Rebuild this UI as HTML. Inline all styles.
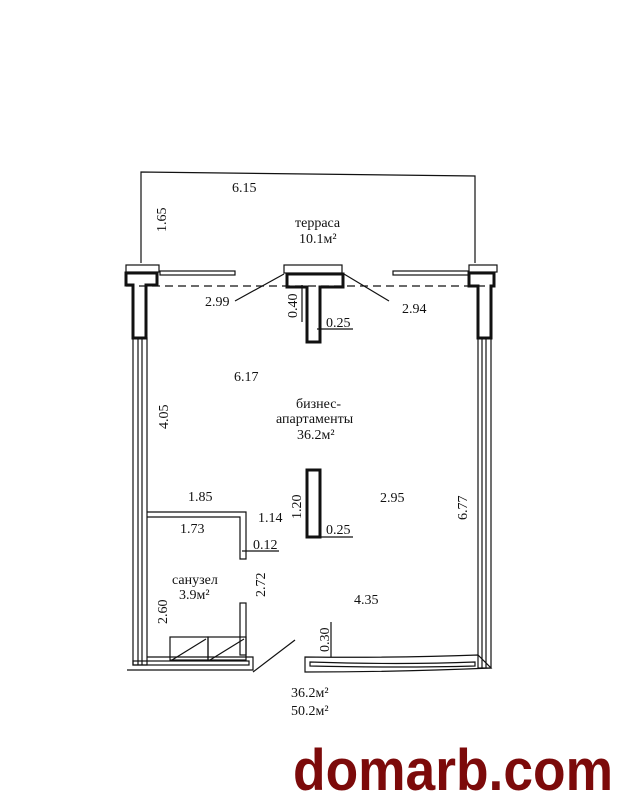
<!DOCTYPE html>
<html><head><meta charset="utf-8"><style>
html,body{margin:0;padding:0;background:#fff;}
svg{display:block}
text{font-family:"Liberation Serif",serif;fill:#111;font-size:14px}
</style></head><body>
<svg width="630" height="811" viewBox="0 0 630 811" xmlns="http://www.w3.org/2000/svg">
<g fill="none" stroke="#111" stroke-width="1.2">
<!-- terrace -->
<polyline points="141,263 141,172 475,176 475,263"/>
<!-- left column -->
<rect x="126" y="265" width="33" height="7"/>
<path d="M126,273 H157 V285 H146 V338 H133 V285 H126 Z" stroke-width="3"/>
<!-- center column -->
<rect x="284" y="265" width="58" height="8"/>
<path d="M287,274 H343 V287 H320 V342 H307 V287 H287 Z" stroke-width="3"/>
<!-- right column -->
<rect x="469" y="265" width="28" height="7"/>
<path d="M469,273 H494 V286 H491 V338 H478 V286 H469 Z" stroke-width="3"/>
<!-- rails -->
<rect x="160" y="271" width="75" height="4"/>
<rect x="393" y="271" width="76" height="4"/>
<!-- dashed -->
<line x1="126" y1="286" x2="494" y2="286" stroke-dasharray="8,5"/>
<!-- side walls -->
<rect x="133" y="338" width="14" height="327"/>
<line x1="138" y1="338" x2="138" y2="665"/><line x1="142" y1="338" x2="142" y2="665"/>
<rect x="478" y="338" width="13" height="330"/>
<line x1="482" y1="338" x2="482" y2="668"/><line x1="486" y1="338" x2="486" y2="668"/>
<!-- bathroom walls -->
<path d="M147,512 H246 V559 H240 V517 H147"/>
<rect x="240" y="603" width="6" height="52"/>
<rect x="170" y="637" width="38" height="23"/>
<rect x="208" y="637" width="38" height="23"/>
<line x1="172" y1="660" x2="206" y2="639"/><line x1="210" y1="660" x2="244" y2="639"/>
<!-- bottom walls -->
<path d="M127,670 H253 V657 H147"/>
<rect x="133" y="661" width="116" height="4"/>
<line x1="253" y1="672" x2="295" y2="640"/>
<path d="M305,657 Q400,658 478,655 L491,668 Q400,672 305,672 Z"/>
<path d="M310,662 Q400,665 475,662 L475,666 Q400,668 310,666 Z"/>
<!-- middle column -->
<rect x="307" y="470" width="13" height="67" stroke-width="3"/>
<!-- leaders -->
<line x1="235" y1="301" x2="284" y2="274"/>
<line x1="344" y1="274" x2="389" y2="301"/>
<line x1="302" y1="285" x2="302" y2="322"/>
<line x1="317" y1="329" x2="353" y2="329"/>
<line x1="317" y1="537" x2="353" y2="537"/>
<line x1="242" y1="551" x2="279" y2="551"/>
<line x1="331" y1="622" x2="331" y2="657"/>
</g>
<text x="232" y="192">6.15</text>
<text transform="translate(166,232) rotate(-90)">1.65</text>
<text x="295" y="227" font-size="15">терраса</text>
<text x="299" y="243" font-size="15">10.1м²</text>
<text x="205" y="306">2.99</text>
<text x="402" y="313">2.94</text>
<text transform="translate(297,318) rotate(-90)">0.40</text>
<text x="326" y="327">0.25</text>
<text x="234" y="381">6.17</text>
<text transform="translate(168,429) rotate(-90)">4.05</text>
<text x="296" y="408" font-size="15">бизнес-</text>
<text x="276" y="423" font-size="15">апартаменты</text>
<text x="297" y="439" font-size="15">36.2м²</text>
<text x="188" y="501">1.85</text>
<text x="380" y="502">2.95</text>
<text transform="translate(467,520) rotate(-90)">6.77</text>
<text transform="translate(301,519) rotate(-90)">1.20</text>
<text x="258" y="522">1.14</text>
<text x="180" y="533">1.73</text>
<text x="326" y="534">0.25</text>
<text x="253" y="549">0.12</text>
<text x="172" y="584" font-size="15">санузел</text>
<text x="179" y="599" font-size="15">3.9м²</text>
<text transform="translate(265,597) rotate(-90)">2.72</text>
<text x="354" y="604">4.35</text>
<text transform="translate(167,624) rotate(-90)">2.60</text>
<text transform="translate(329,652) rotate(-90)">0.30</text>
<text x="291" y="697">36.2м²</text>
<text x="291" y="715">50.2м²</text>
<text x="293" y="790" textLength="320" lengthAdjust="spacingAndGlyphs" style="font-family:'Liberation Sans',sans-serif;font-weight:bold;font-size:58px;fill:#7c0a0a">domarb.com</text>
</svg>
</body></html>
